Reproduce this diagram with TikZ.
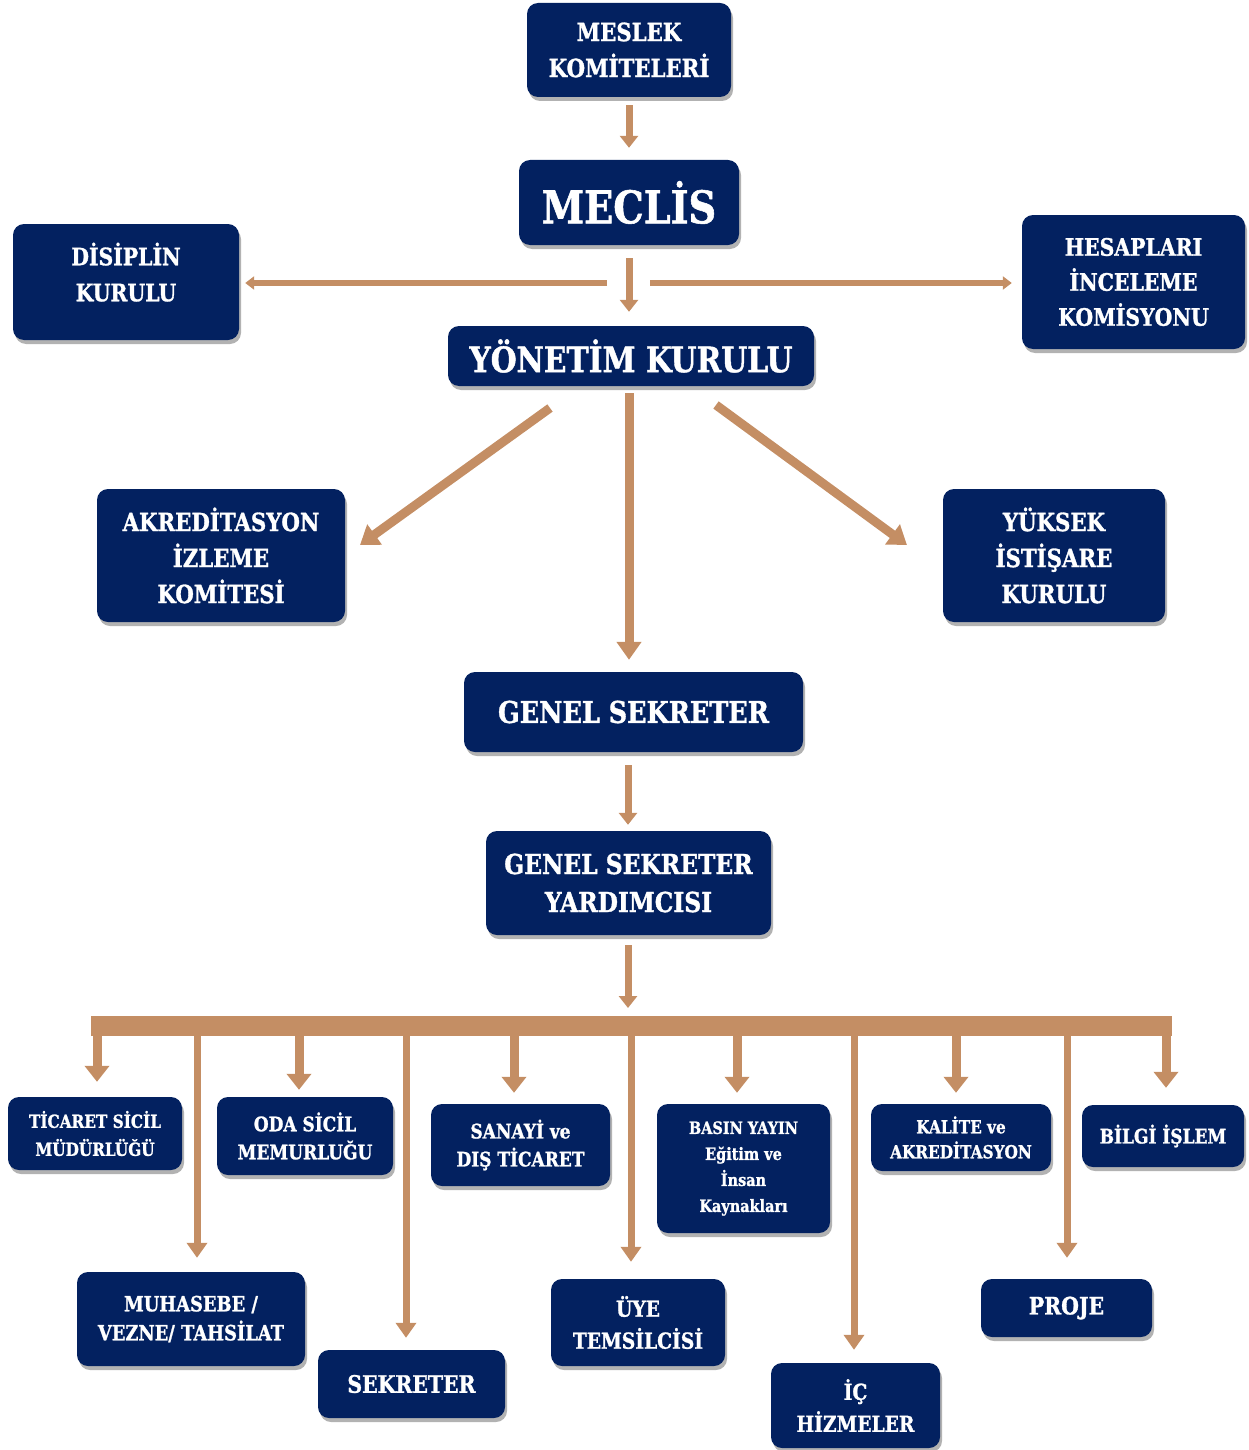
\documentclass[tikz,border=0pt]{standalone}
\usepackage{fontspec}
\setmainfont{DejaVu Serif}[FakeStretch=0.85, BoldFeatures={FakeBold=1.2}]
\usetikzlibrary{arrows.meta,shadows}
\definecolor{navy}{RGB}{3,33,96}
\definecolor{tan}{RGB}{196,142,100}
\newcommand\myfs[2]{\fontsize{#1}{#2}\selectfont\bfseries}
\begin{document}
\begin{tikzpicture}[x=1pt,y=-1pt,
  box/.style={fill=navy, rounded corners=11pt, text=white, align=center, inner sep=0pt,
    drop shadow={shadow xshift=2pt, shadow yshift=-4pt, opacity=0.3, fill=black}},
  arr/.style={draw=tan, line width=7pt, -{Triangle[width=18pt,length=12pt]}},
  harr/.style={draw=tan, line width=6pt, -{Triangle[width=13pt,length=9pt]}},
  darr/.style={draw=tan, line width=9pt, -{Triangle[width=24pt,length=18pt]}},
  sarr/.style={draw=tan, line width=9pt, -{Triangle[width=24pt,length=16pt]}},
  larr/.style={draw=tan, line width=7pt, -{Triangle[width=20pt,length=15pt]}}]
\useasboundingbox (0,0) rectangle (1249,1450);

% boxes
\node[box, minimum width=204pt, minimum height=94pt, font=\myfs{25}{36}] (meslek) at (629,50) {MESLEK\\KOMİTELERİ};
\node[box, minimum width=220pt, minimum height=85pt, font=\myfs{45}{50}] (meclis) at (629,202.5) {MECLİS};
\node[box, minimum width=226pt, minimum height=116pt, font=\myfs{24}{36}] (disiplin) at (126,282) {DİSİPLİN\\KURULU\\[-16pt]};
\node[box, minimum width=223pt, minimum height=134pt, font=\myfs{24}{35}] (hesap) at (1133.5,282) {HESAPLARI\\İNCELEME\\KOMİSYONU};
\node[box, minimum width=366pt, minimum height=60pt, font=\myfs{35}{40}] (yonetim) at (631,356) {YÖNETİM KURULU};
\node[box, minimum width=248pt, minimum height=133pt, font=\myfs{25}{36}] (akred) at (221,555.5) {AKREDİTASYON\\İZLEME\\KOMİTESİ};
\node[box, minimum width=222pt, minimum height=133pt, font=\myfs{25}{36}] (yuksek) at (1054,555.5) {YÜKSEK\\İSTİŞARE\\KURULU};
\node[box, minimum width=339pt, minimum height=80pt, font=\myfs{30}{36}] (gs) at (633.5,712) {GENEL SEKRETER};
\node[box, minimum width=285pt, minimum height=104pt, font=\myfs{27.5}{38}] (gsy) at (628.5,883) {GENEL SEKRETER\\YARDIMCISI};

\node[box, minimum width=174pt, minimum height=73pt, font=\myfs{18}{28}] (ticaret) at (95,1133.5) {TİCARET SİCİL\\MÜDÜRLÜĞÜ};
\node[box, minimum width=176pt, minimum height=78pt, font=\myfs{20}{28}] (oda) at (305,1136) {ODA SİCİL\\MEMURLUĞU};
\node[box, minimum width=179pt, minimum height=82pt, font=\myfs{20}{28}] (sanayi) at (520.5,1145) {SANAYİ ve\\DIŞ TİCARET};
\node[box, minimum width=173pt, minimum height=129pt, font=\myfs{17}{26}] (basin) at (743.5,1168.5) {BASIN YAYIN\\Eğitim ve\\İnsan\\Kaynakları};
\node[box, minimum width=180pt, minimum height=67pt, font=\myfs{18}{25}] (kalite) at (961,1137.5) {KALİTE ve\\AKREDİTASYON};
\node[box, minimum width=162pt, minimum height=62pt, font=\myfs{20}{26}] (bilgi) at (1163,1136) {BİLGİ İŞLEM};
\node[box, minimum width=228pt, minimum height=94pt, font=\myfs{21}{29}] (muhasebe) at (191,1319) {MUHASEBE /\\VEZNE/ TAHSİLAT};
\node[box, minimum width=187pt, minimum height=68pt, font=\myfs{24}{30}] (sekreter) at (411.5,1384) {SEKRETER};
\node[box, minimum width=174pt, minimum height=87pt, font=\myfs{22}{32}] (uye) at (638,1322.5) {ÜYE\\TEMSİLCİSİ};
\node[box, minimum width=169pt, minimum height=85pt, font=\myfs{22}{32}] (ic) at (855.5,1405.5) {İÇ\\HİZMELER};
\node[box, minimum width=171pt, minimum height=58pt, font=\myfs{24}{30}] (proje) at (1066.5,1308) {PROJE};

% top connectors
\draw[arr, shorten <=8pt, shorten >=12pt] (meslek) -- (meclis);
\draw[arr, shorten <=13pt, shorten >=14pt] (meclis.south) -- (meclis.south |- yonetim.north);
\coordinate (hL) at (607,283);
\coordinate (hR) at (650,283);
\draw[harr, shorten >=6pt] (hL) -- (hL -| disiplin.east);
\draw[harr, shorten >=10pt] (hR) -- (hR -| hesap.west);

\coordinate (d1s) at (550,408);
\coordinate (d1e) at (360,545);
\coordinate (d3s) at (716,405);
\coordinate (d3e) at (907,545);
\draw[darr] (d1s) -- (d1e);
\draw[darr] (d3s) -- (d3e);
\draw[darr, shorten <=7pt, shorten >=12pt] (yonetim.south -| 629,0) -- (gs.north -| 629,0);
\draw[arr, shorten <=13pt, shorten >=6pt] (gs.south -| 628,0) -- (gsy.north -| 628,0);

% bus
\coordinate (bustop) at (628,1016);
\draw[arr, shorten <=10pt, shorten >=8pt] (gsy.south -| bustop) -- (bustop);
\draw[draw=tan, line width=20pt] (91,1026) -- (1172,1026);

\coordinate (s1) at (97,1026);
\coordinate (s2) at (299,1030);
\coordinate (s3) at (514,1030);
\coordinate (s4) at (737,1030);
\coordinate (s5) at (956,1030);
\coordinate (s6) at (1166,1026);
\draw[sarr, shorten >=15pt] (s1) -- (s1 |- ticaret.north);
\draw[sarr, shorten >=7pt] (s2) -- (s2 |- oda.north);
\draw[sarr, shorten >=11pt] (s3) -- (s3 |- sanayi.north);
\draw[sarr, shorten >=11pt] (s4) -- (s4 |- basin.north);
\draw[sarr, shorten >=11pt] (s5) -- (s5 |- kalite.north);
\draw[sarr, shorten >=17pt] (s6) -- (s6 |- bilgi.north);

\coordinate (l1) at (197,1030);
\coordinate (l2) at (406,1030);
\coordinate (l3) at (631,1030);
\coordinate (l4) at (854,1030);
\coordinate (l5) at (1067,1030);
\draw[larr, shorten >=14pt] (l1) -- (l1 |- muhasebe.north);
\draw[larr, shorten >=12pt] (l2) -- (l2 |- sekreter.north);
\draw[larr, shorten >=17pt] (l3) -- (l3 |- uye.north);
\draw[larr, shorten >=13pt] (l4) -- (l4 |- ic.north);
\draw[larr, shorten >=21pt] (l5) -- (l5 |- proje.north);
\end{tikzpicture}
\end{document}
